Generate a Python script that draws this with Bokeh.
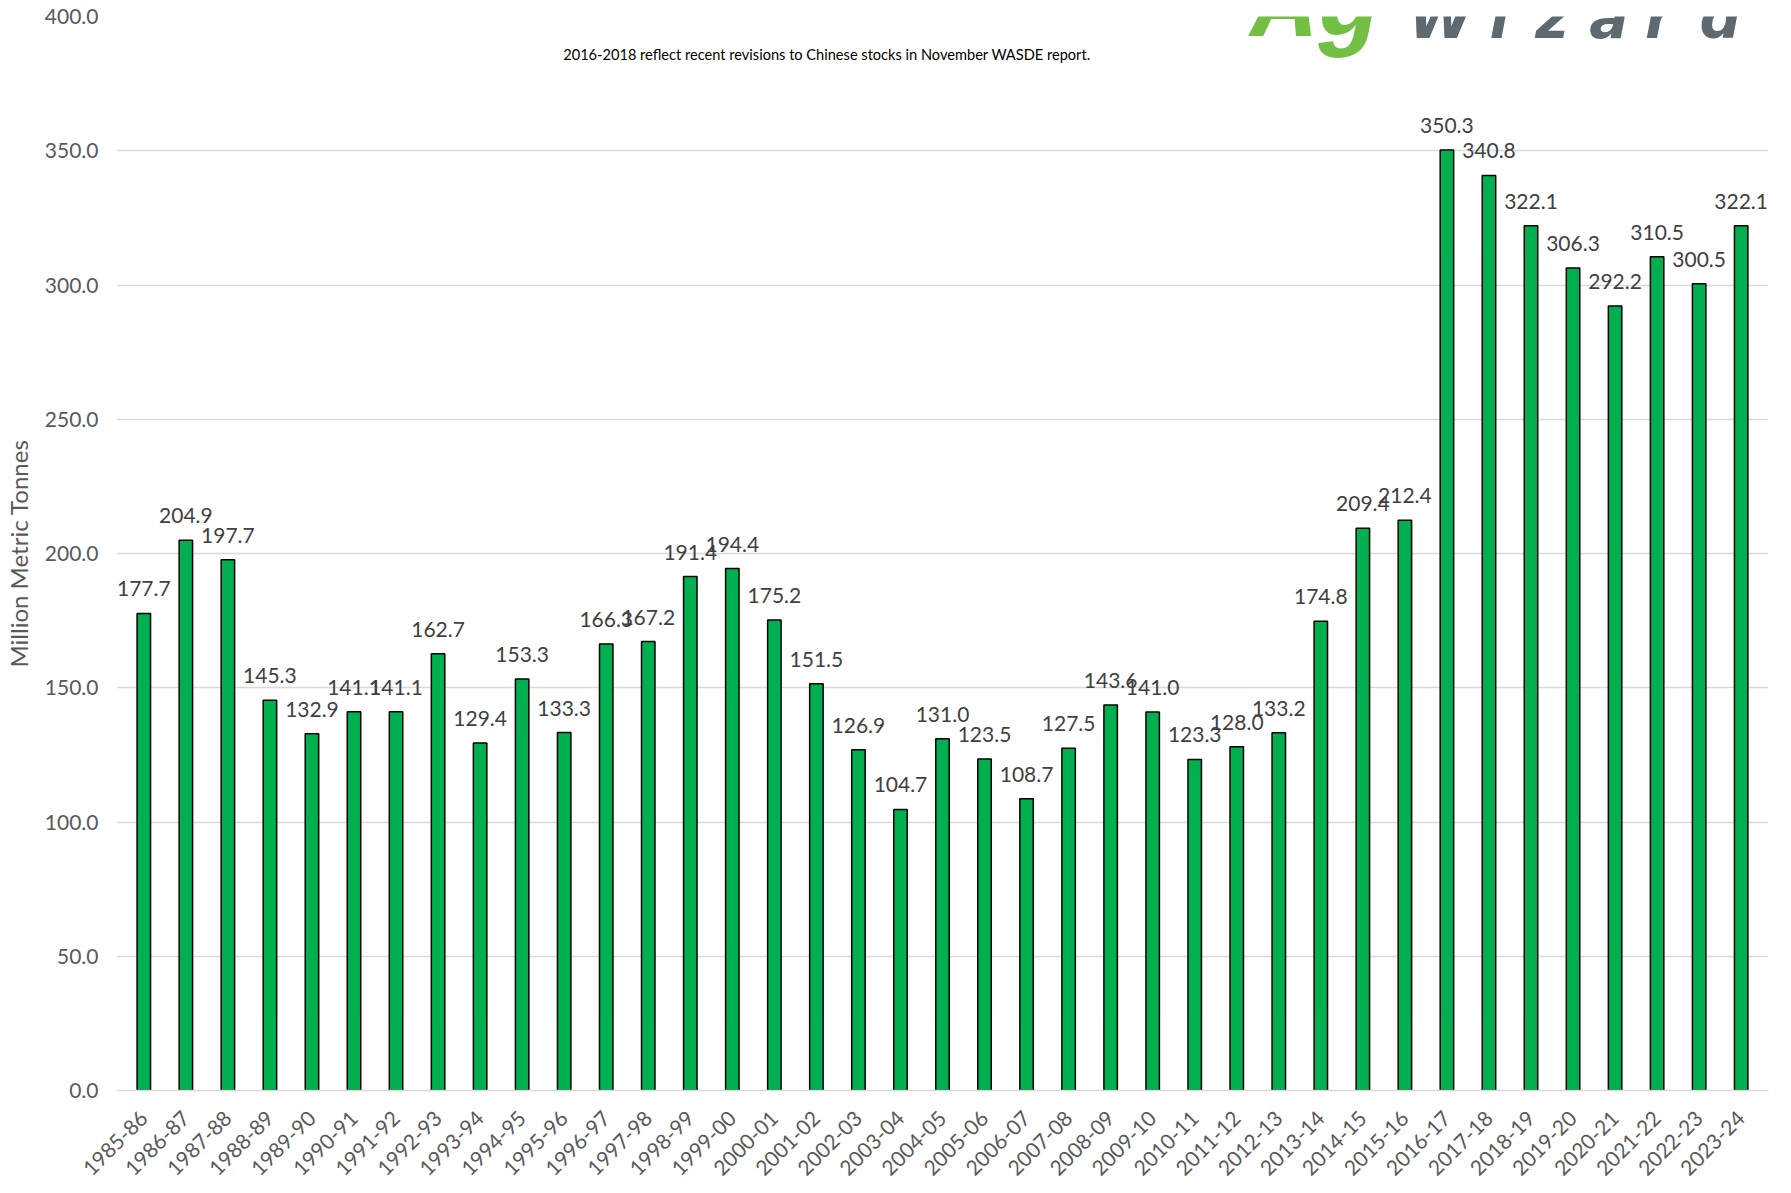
from bokeh.plotting import figure
from bokeh.models import (Range1d, FactorRange, FixedTicker, NumeralTickFormatter,
                          Label, LabelSet, BoxAnnotation, ColumnDataSource)
from bokeh.core.properties import value
from bokeh.embed import file_html
from bokeh.resources import INLINE
import math

seasons = ["1985-86", "1986-87", "1987-88", "1988-89", "1989-90", "1990-91", "1991-92",
           "1992-93", "1993-94", "1994-95", "1995-96", "1996-97", "1997-98", "1998-99",
           "1999-00", "2000-01", "2001-02", "2002-03", "2003-04", "2004-05", "2005-06",
           "2006-07", "2007-08", "2008-09", "2009-10", "2010-11", "2011-12", "2012-13",
           "2013-14", "2014-15", "2015-16", "2016-17", "2017-18", "2018-19", "2019-20",
           "2020-21", "2021-22", "2022-23", "2023-24"]
stocks = [177.7, 204.9, 197.7, 145.3, 132.9, 141.1, 141.1, 162.7, 129.4, 153.3, 133.3,
          166.3, 167.2, 191.4, 194.4, 175.2, 151.5, 126.9, 104.7, 131.0, 123.5, 108.7,
          127.5, 143.6, 141.0, 123.3, 128.0, 133.2, 174.8, 209.4, 212.4, 350.3, 340.8,
          322.1, 306.3, 292.2, 310.5, 300.5, 322.1]
y_ticks = [0, 50, 100, 150, 200, 250, 300, 350, 400]
note = "2016-2018 reflect recent revisions to Chinese stocks in November WASDE report."

src = ColumnDataSource(dict(x=seasons, top=stocks, lbl=["%.1f" % v for v in stocks]))

FONT = "Lato"
p = figure(width=1783, height=1185, output_backend="svg", toolbar_location=None,
           x_range=FactorRange(factors=seasons, range_padding=0.15,
                               range_padding_units="absolute"),
           y_range=Range1d(0, 400),
           min_border_left=113, min_border_right=15, min_border_top=16, min_border_bottom=93)
p.outline_line_color = None
p.background_fill_color = "white"
p.border_fill_color = "white"

p.vbar(x="x", top="top", width=0.32, source=src, fill_color="#00B050",
       line_color="black", line_width=1.5)
p.add_layout(LabelSet(x="x", y="top", text="lbl", source=src, text_align="center",
                      text_baseline="bottom", y_offset=17, text_font=value(FONT),
                      text_font_size=value("21px"), text_color=value("#404040")))

p.yaxis.ticker = FixedTicker(ticks=y_ticks)
p.yaxis.formatter = NumeralTickFormatter(format="0.0")
p.yaxis.axis_line_color = None
p.yaxis.major_tick_line_color = None
p.yaxis.minor_tick_line_color = None
p.yaxis.major_label_standoff = 12
p.yaxis.major_label_text_font = FONT
p.yaxis.major_label_text_font_size = "21px"
p.yaxis.major_label_text_color = "#595959"
p.yaxis.axis_label = "Million Metric Tonnes"
p.yaxis.axis_label_text_font = FONT
p.yaxis.axis_label_text_font_style = "normal"
p.yaxis.axis_label_text_font_size = "24px"
p.yaxis.axis_label_text_color = "#595959"
p.yaxis.axis_label_standoff = 9

p.xaxis.axis_line_color = "#D9D9D9"
p.xaxis.axis_line_width = 1.5
p.xaxis.major_tick_line_color = None
p.xaxis.minor_tick_line_color = None
p.xaxis.major_label_orientation = math.pi / 4
p.xaxis.major_label_standoff = 18
p.xaxis.major_label_text_font = FONT
p.xaxis.major_label_text_font_size = "21px"
p.xaxis.major_label_text_color = "#595959"

p.xgrid.grid_line_color = None
p.ygrid.grid_line_color = "#D9D9D9"
p.ygrid.grid_line_width = 1.5

p.add_layout(Label(x=16.75, y=385.9, text=note, text_align="center", text_baseline="middle",
                   text_font=FONT, text_font_size="14.6px", text_color="black"))

# logo area (decoration)
p.add_layout(BoxAnnotation(left=26.85, right=39.15, bottom=383.5, top=400, fill_color="white",
                           fill_alpha=1.0, line_alpha=0, level="overlay"))
p.add_layout(Label(x=26.9, y=403.0, text="Ag", text_align="left", text_baseline="alphabetic",
                   text_font="Liberation Mono", text_font_style="bold italic",
                   text_font_size="105px", text_color="#72BF44", level="overlay"))
logo = [("W", 31.35), ("i", 32.75), ("z", 34.0), ("a", 35.35), ("r", 36.55), ("d", 38.0)]
for ch, lx in logo:
    p.add_layout(Label(x=lx, y=399.6, text=ch, text_align="center", text_baseline="alphabetic",
                       text_font="DejaVu Sans", text_font_style="bold italic",
                       text_font_size="58px", text_color="#5E6A71", level="overlay"))

open("out.html", "w").write(file_html(p, INLINE))
